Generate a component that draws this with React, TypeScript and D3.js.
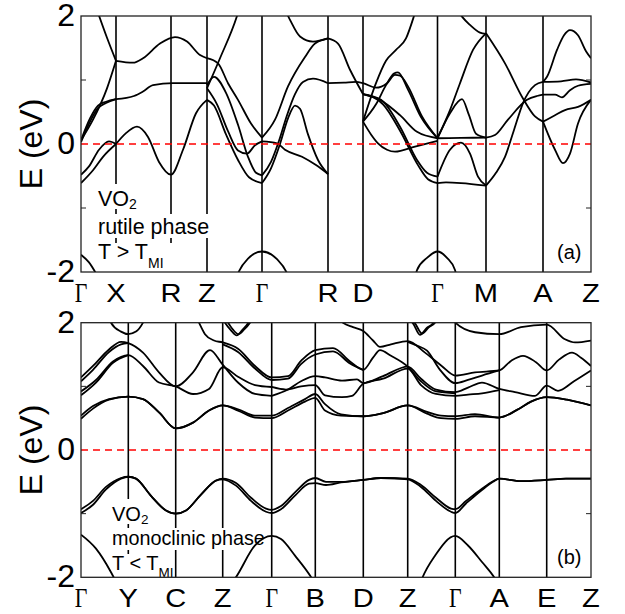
import React from 'react';
import * as d3 from 'd3';

type Pt = [number, number];

// ---- panel (a): rutile VO2, path positions and labels
const rutileK = [0, 0.35, 0.9, 1.26, 1.81, 2.47, 2.82, 3.565, 4.05, 4.62, 5.1];
const rutileLabels = ['Γ', 'X', 'R', 'Z', 'Γ', 'R', 'D', 'Γ', 'M', 'A', 'Z'];

// bands of panel (a), [k, E in eV]
const ruA1: Pt[] = [[0.17, 2.05], [0.26, 1.66], [0.35, 1.3]];
const ruA2: Pt[] = [[0, 0.06], [0.12, 0.38], [0.26, 0.87], [0.35, 1.3]];
const ruA3: Pt[] = [[0.35, 1.3], [0.52, 1.27], [0.62, 1.34], [0.79, 1.57], [0.94, 1.67], [1.06, 1.6], [1.19, 1.39], [1.26, 1.34]];
const ruA4: Pt[] = [[1.26, 1.34], [1.37, 1.26], [1.47, 0.95], [1.57, 0.69], [1.7, 0.32], [1.81, 0.1]];
const ruA5: Pt[] = [[1.81, 0.1], [1.94, 0.38], [2.07, 0.9], [2.24, 1.36], [2.34, 1.57], [2.47, 1.65]];
const ruA6: Pt[] = [[2.47, 1.65], [2.57, 1.57], [2.69, 1.16], [2.82, 0.78]];
const ruA7: Pt[] = [[2.82, 0.78], [2.99, 0.69], [3.19, 0.45], [3.36, 0.19], [3.565, 0.09]];
const ruA8: Pt[] = [[3.565, 0.09], [3.69, 0.53], [3.79, 0.95], [3.92, 1.47], [4.05, 1.73]];
const ruA9: Pt[] = [[4.05, 1.73], [4.24, 1.26], [4.42, 0.71], [4.54, 0.43], [4.62, 0.35]];
const ruB1: Pt[] = [[0, 0.06], [0.09, 0.4], [0.17, 0.6], [0.25, 0.66], [0.35, 0.7]];
const ruB2: Pt[] = [[0, 0.03], [0.09, 0.35], [0.17, 0.56], [0.25, 0.64], [0.35, 0.7]];
const ruB3: Pt[] = [[0.35, 0.7], [0.53, 0.75], [0.62, 0.82], [0.72, 0.92], [0.92, 0.95], [1.26, 0.95]];
const ruC1: Pt[] = [[0.35, 0], [0.45, 0.17], [0.56, 0.27], [0.67, 0.11], [0.78, -0.28], [0.9, -0.48], [1.02, -0.09], [1.15, 0.48], [1.26, 0.69]];
const ruC2: Pt[] = [[1.26, 0.92], [1.33, 1.05], [1.45, 0.8], [1.57, 0.3], [1.67, -0.2], [1.75, -0.45], [1.81, -0.49]];
const ruC3: Pt[] = [[1.26, 0.69], [1.33, 0.6], [1.45, 0.15], [1.57, -0.25], [1.68, -0.52], [1.81, -0.61]];
const ruC4: Pt[] = [[1.26, 0.87], [1.36, 0.62], [1.47, 0.2], [1.57, -0.1], [1.66, -0.15], [1.74, -0.02], [1.81, 0.04]];
const ruC5: Pt[] = [[1.26, 0.87], [1.39, 1.34], [1.56, 2.0], [1.58, 2.1]];
const ruC6: Pt[] = [[2.04, 2.1], [2.09, 1.94], [2.19, 1.68], [2.32, 1.6], [2.47, 1.65]];
const ruD1: Pt[] = [[1.81, -0.49], [1.9, -0.28], [1.98, 0.05], [2.06, 0.45], [2.14, 0.78], [2.22, 0.97], [2.32, 1.02], [2.47, 0.95]];
const ruD2: Pt[] = [[1.81, -0.61], [1.9, -0.38], [1.99, 0], [2.07, 0.4], [2.14, 0.6], [2.19, 0.55], [2.27, 0.15], [2.37, -0.25], [2.47, -0.47]];
const ruD3: Pt[] = [[1.81, 0.04], [1.96, 0.01], [2.04, -0.09], [2.21, -0.2], [2.35, -0.33], [2.47, -0.47]];
const ruE1: Pt[] = [[0, -0.48], [0.08, -0.35], [0.18, -0.09], [0.28, 0.04], [0.35, 0]];
const ruE2: Pt[] = [[0, -0.61], [0.12, -0.41], [0.22, -0.2], [0.35, 0]];
const ruF1: Pt[] = [[0, -1.73], [0.08, -1.85], [0.16, -2.05]];
const ruF2: Pt[] = [[1.55, -2.1], [1.57, -2.02], [1.67, -1.79], [1.81, -1.68], [1.96, -1.8], [2.06, -2.02], [2.08, -2.1]];
const ruF3: Pt[] = [[3.34, -2.1], [3.36, -1.97], [3.46, -1.78], [3.565, -1.68], [3.66, -1.78], [3.74, -1.97], [3.76, -2.1]];
const ruG1: Pt[] = [[2.47, 0.95], [2.63, 0.96], [2.75, 0.97], [2.82, 0.95], [2.95, 0.88], [3.06, 0.95], [3.14, 1.08], [3.19, 1.07], [3.27, 0.9], [3.41, 0.43], [3.565, 0.09]];
const ruG2: Pt[] = [[2.82, 0.35], [2.95, 0.62], [3.05, 0.92], [3.13, 1.1], [3.17, 1.12], [3.27, 0.85], [3.4, 0.42], [3.565, 0.09]];
const ruG3: Pt[] = [[2.82, 0.35], [2.95, 0.95], [3.05, 1.3], [3.15, 1.47], [3.25, 1.65], [3.33, 2.0], [3.35, 2.1]];
const ruG4: Pt[] = [[2.82, 0.35], [2.9, 0.15], [2.97, 0.01], [3.06, -0.09], [3.14, -0.12], [3.34, -0.04], [3.565, 0.05]];
const ruG5: Pt[] = [[2.82, 0.78], [3.0, 0.69], [3.19, 0.27], [3.36, -0.25], [3.46, -0.45], [3.565, -0.51]];
const ruG6: Pt[] = [[2.82, 0.78], [3.02, 0.62], [3.2, 0.18], [3.37, -0.33], [3.47, -0.55], [3.565, -0.61]];
const ruH1: Pt[] = [[3.565, 0.09], [3.8, 0.095], [4.05, 0.1]];
const ruH2: Pt[] = [[3.565, 0.09], [3.69, 0.48], [3.81, 0.7], [3.88, 0.45], [3.95, 0.16], [4.05, 0.1]];
const ruH3: Pt[] = [[3.565, -0.51], [3.69, -0.09], [3.8, 0.02], [3.89, -0.15], [3.97, -0.51], [4.05, -0.65]];
const ruH4: Pt[] = [[3.565, -0.61], [3.65, -0.6], [3.8, -0.61], [4.05, -0.65]];
const ruH5: Pt[] = [[3.77, 2.08], [3.81, 1.99], [3.89, 1.86], [3.99, 1.74], [4.05, 1.72]];
const ruJ1: Pt[] = [[4.05, 0.1], [4.14, 0.14], [4.27, 0.38], [4.46, 0.69], [4.56, 0.75], [4.62, 0.77]];
const ruJ2: Pt[] = [[4.05, -0.65], [4.15, -0.45], [4.24, -0.2], [4.33, 0.22], [4.42, 0.64], [4.54, 0.92], [4.62, 0.97]];
const ruK1: Pt[] = [[4.62, 0.97], [4.8, 0.98], [4.95, 1.01], [5.1, 0.96]];
const ruK2: Pt[] = [[4.62, 0.77], [4.74, 0.77], [4.81, 0.73], [4.89, 0.84], [4.97, 0.91], [5.1, 0.94]];
const ruK3: Pt[] = [[4.62, 0.97], [4.66, 1.05], [4.76, 1.47], [4.83, 1.7], [4.89, 1.78], [4.97, 1.7], [5.05, 1.45], [5.1, 1.34]];
const ruK4: Pt[] = [[4.62, 0.35], [4.74, -0.09], [4.82, -0.3], [4.89, -0.15], [4.97, 0.32], [5.1, 0.69]];
const ruK5: Pt[] = [[4.62, 0.35], [4.74, 0.45], [4.84, 0.53], [4.97, 0.58], [5.1, 0.69]];

const rutileBands = [
  ruA1, ruA2, ruA3, ruA4, ruA5, ruA6, ruA7, ruA8, ruA9, ruB1, ruB2, ruB3,
  ruC1, ruC2, ruC3, ruC4, ruC5, ruC6, ruD1, ruD2, ruD3, ruE1, ruE2, ruF1, ruF2, ruF3,
  ruG1, ruG2, ruG3, ruG4, ruG5, ruG6, ruH1, ruH2, ruH3, ruH4, ruH5,
  ruJ1, ruJ2, ruK1, ruK2, ruK3, ruK4, ruK5,
];

// ---- panel (b): monoclinic VO2
const monoK = [0, 0.473, 0.947, 1.417, 1.907, 2.343, 2.823, 3.267, 3.743, 4.183, 4.657, 5.1];
const monoLabels = ['Γ', 'Y', 'C', 'Z', 'Γ', 'B', 'D', 'Z', 'Γ', 'A', 'E', 'Z'];

const moV1: Pt[] = [[0, -0.93], [0.12, -0.8], [0.25, -0.58], [0.4, -0.44], [0.473, -0.42], [0.55, -0.45], [0.7, -0.72], [0.85, -0.95], [0.947, -1.0], [1.05, -0.95], [1.2, -0.7], [1.35, -0.48], [1.417, -0.45], [1.55, -0.52], [1.7, -0.75], [1.85, -0.92], [1.907, -0.94], [2.0, -0.88], [2.15, -0.65], [2.28, -0.47], [2.343, -0.44], [2.45, -0.5], [2.6, -0.5], [2.823, -0.47], [3.0, -0.44], [3.267, -0.45], [3.4, -0.55], [3.55, -0.75], [3.7, -0.92], [3.743, -0.93], [3.85, -0.8], [4.0, -0.62], [4.12, -0.49], [4.183, -0.45], [4.4, -0.49], [4.657, -0.47], [4.85, -0.45], [5.1, -0.45]];
const moV2: Pt[] = [[0, -0.99], [0.12, -0.86], [0.25, -0.62], [0.4, -0.45], [0.473, -0.42], [0.55, -0.45], [0.7, -0.72], [0.85, -0.95], [0.947, -1.0], [1.05, -0.95], [1.2, -0.7], [1.35, -0.48], [1.417, -0.46], [1.55, -0.56], [1.7, -0.8], [1.85, -0.97], [1.907, -0.99], [2.0, -0.93], [2.15, -0.7], [2.28, -0.53], [2.343, -0.52], [2.45, -0.55], [2.6, -0.51], [2.823, -0.47], [3.0, -0.44], [3.267, -0.46], [3.4, -0.58], [3.55, -0.8], [3.7, -0.97], [3.743, -0.99], [3.85, -0.84], [4.0, -0.64], [4.12, -0.5], [4.183, -0.45], [4.4, -0.49], [4.657, -0.47], [4.85, -0.45], [5.1, -0.45]];
const moL1: Pt[] = [[0, -1.33], [0.15, -1.55], [0.3, -1.92], [0.36, -2.1]];
const moL2: Pt[] = [[1.5, -2.1], [1.54, -2.02], [1.74, -1.5], [1.907, -1.35], [2.0, -1.4], [2.14, -1.66], [2.31, -2.02], [2.34, -2.1]];
const moL3: Pt[] = [[3.39, -2.1], [3.41, -2.02], [3.54, -1.66], [3.743, -1.35], [3.87, -1.5], [4.01, -1.76], [4.14, -2.02], [4.17, -2.1]];
const moC1: Pt[] = [[0, 0.54], [0.12, 0.69], [0.28, 0.8], [0.473, 0.84], [0.62, 0.8], [0.78, 0.59], [0.947, 0.34], [1.12, 0.43], [1.28, 0.62], [1.417, 0.7], [1.57, 0.64], [1.74, 0.54], [1.907, 0.54], [2.07, 0.66], [2.24, 0.8], [2.343, 0.88], [2.44, 0.72], [2.6, 0.56], [2.823, 0.53], [3.02, 0.58], [3.267, 0.7], [3.46, 0.6], [3.6, 0.54], [3.743, 0.53], [3.94, 0.565], [4.183, 0.51], [4.36, 0.63], [4.5, 0.76], [4.657, 0.83], [4.86, 0.79], [5.1, 0.7]];
const moC2: Pt[] = [[0, 0.49], [0.12, 0.65], [0.28, 0.79], [0.473, 0.84], [0.62, 0.8], [0.78, 0.59], [0.947, 0.34], [1.12, 0.43], [1.28, 0.62], [1.417, 0.7], [1.57, 0.62], [1.74, 0.51], [1.907, 0.5], [2.07, 0.62], [2.24, 0.76], [2.343, 0.82], [2.44, 0.62], [2.6, 0.54], [2.823, 0.53], [3.02, 0.58], [3.267, 0.7], [3.46, 0.57], [3.6, 0.5], [3.743, 0.49], [3.94, 0.53], [4.183, 0.51], [4.36, 0.63], [4.5, 0.76], [4.657, 0.83], [4.86, 0.79], [5.1, 0.7]];
const moB1: Pt[] = [[0, 1.14], [0.12, 1.32], [0.28, 1.58], [0.4, 1.7], [0.473, 1.68], [0.62, 1.53], [0.78, 1.22], [0.947, 1.0], [1.12, 1.22], [1.29, 1.57], [1.417, 1.34], [1.57, 1.06], [1.74, 0.88], [1.907, 0.85]];
const moB2: Pt[] = [[0, 1.08], [0.12, 1.26], [0.28, 1.54], [0.4, 1.66], [0.473, 1.68]];
const moB3: Pt[] = [[0, 0.92], [0.15, 1.1], [0.32, 1.39], [0.473, 1.49], [0.62, 1.32], [0.78, 1.06], [0.947, 1.0], [1.12, 0.88], [1.28, 0.96], [1.417, 1.3], [1.57, 1.15], [1.74, 1.02], [1.907, 0.99]];
const moB4: Pt[] = [[0, 0.86], [0.15, 1.06], [0.32, 1.37], [0.473, 1.49]];
const moB5: Pt[] = [[0.27, 2.1], [0.3, 2.0], [0.4, 1.86], [0.473, 1.82], [0.55, 1.86], [0.62, 2.0], [0.65, 2.1]];
const moB6: Pt[] = [[1.15, 2.1], [1.18, 2.0], [1.24, 1.82], [1.33, 1.72], [1.417, 1.69], [1.57, 1.59], [1.74, 1.32], [1.907, 1.14], [2.07, 1.16], [2.2, 1.4], [2.343, 1.57], [2.52, 1.6], [2.69, 1.39], [2.823, 1.26], [2.92, 1.45], [2.99, 1.57], [3.1, 1.48], [3.267, 1.31], [3.4, 1.08], [3.55, 0.92], [3.743, 0.89]];
const moB7: Pt[] = [[1.417, 1.66], [1.57, 1.54], [1.74, 1.28], [1.907, 1.1], [2.07, 1.12], [2.2, 1.35], [2.343, 1.5], [2.52, 1.55], [2.69, 1.36], [2.823, 1.26]];
const moG1: Pt[] = [[2.55, 2.1], [2.62, 2.0], [2.72, 1.93], [2.823, 1.87], [2.92, 1.72], [2.99, 1.62], [3.1, 1.66], [3.267, 1.71], [3.44, 1.53], [3.607, 1.32], [3.743, 1.17], [3.94, 1.22], [4.183, 1.25], [4.3, 1.4], [4.42, 1.48], [4.55, 1.38], [4.657, 1.25], [4.78, 1.42], [4.91, 1.53], [5.0, 1.45], [5.1, 1.32]];
const moG2: Pt[] = [[1.907, 0.85], [2.07, 0.95], [2.2, 1.08], [2.343, 1.16], [2.44, 1.14], [2.61, 1.09], [2.76, 1.11], [2.823, 1.05], [3.02, 1.16], [3.267, 1.31], [3.4, 1.12], [3.55, 0.95], [3.743, 0.91], [3.87, 0.98], [4.01, 1.06], [4.183, 0.96], [4.34, 0.91], [4.54, 0.85], [4.657, 1.01], [4.77, 0.93], [4.93, 1.08], [5.1, 1.25]];
const moG3: Pt[] = [[1.907, 0.99], [2.05, 0.95], [2.2, 1.0], [2.343, 1.02], [2.44, 0.86], [2.61, 0.83], [2.71, 0.85], [2.823, 1.04], [3.02, 1.12], [3.267, 1.28], [3.4, 1.02], [3.55, 0.88], [3.743, 0.85], [3.87, 0.87], [4.01, 0.89], [4.183, 0.94]];
const moG4: Pt[] = [[3.267, 1.7], [3.36, 1.64], [3.46, 1.56], [3.59, 1.26], [3.743, 1.05], [3.87, 1.1], [4.01, 1.17], [4.183, 1.25]];
const moG5: Pt[] = [[3.7, 2.1], [3.743, 2.0], [3.94, 1.85], [4.183, 1.82], [4.4, 1.93], [4.657, 1.97], [4.84, 1.74], [4.94, 1.69], [5.1, 1.72]];
const moW1: Pt[] = [[1.42, 2.05], [1.44, 2.0], [1.5, 1.88], [1.557, 1.8], [1.61, 1.88], [1.673, 2.0], [1.69, 2.05]];
const moW2: Pt[] = [[1.45, 2.05], [1.47, 2.0], [1.52, 1.89], [1.575, 1.82], [1.63, 1.89], [1.69, 2.0], [1.71, 2.05]];
const moW3: Pt[] = [[3.28, 2.05], [3.32, 1.99], [3.39, 1.81], [3.46, 1.92], [3.52, 1.99], [3.54, 2.05]];
const moW4: Pt[] = [[3.3, 2.05], [3.34, 1.99], [3.41, 1.83], [3.48, 1.93], [3.54, 2.0], [3.56, 2.05]];

const monoBands = [
  moV1, moV2, moL1, moL2, moL3, moC1, moC2, moB1, moB2, moB3, moB4, moB5, moB6, moB7,
  moG1, moG2, moG3, moG4, moG5, moW1, moW2, moW3, moW4,
];

const yTicks = [2, 0, -2];
const yMinor = [1, -1];

const SANS = '"Liberation Sans", Arial, Helvetica, sans-serif';
const SERIF = '"Liberation Serif", "Times New Roman", serif';

const X0 = 81;
const X1 = 591;

type PanelProps = {
  id: string;
  top: number;
  bottom: number;
  kPts: number[];
  labels: string[];
  bands: Pt[][];
  tag: string;
  children?: React.ReactNode;
};

const Panel = ({ id, top, bottom, kPts, labels, bands, tag, children }: PanelProps) => {
  const x = d3.scaleLinear().domain([0, kPts[kPts.length - 1]]).range([X0, X1]);
  const y = d3.scaleLinear().domain([-2, 2]).range([bottom, top]);
  const line = d3.line<Pt>().x(d => x(d[0])).y(d => y(d[1])).curve(d3.curveMonotoneX);
  const mid = (top + bottom) / 2;

  return (
    <g>
      <defs>
        <clipPath id={id}>
          <rect x={X0} y={top} width={X1 - X0} height={bottom - top} />
        </clipPath>
      </defs>

      {/* high-symmetry lines */}
      {kPts.slice(1, -1).map((k, i) => (
        <line key={i} x1={x(k)} x2={x(k)} y1={top} y2={bottom} stroke="#000" strokeWidth={1.6} />
      ))}

      {/* white boxes of the caption hide the lines behind it */}
      {children}

      <g clipPath={`url(#${id})`}>
        {bands.map((b, i) => (
          <path key={i} d={line(b) || ''} fill="none" stroke="#000" strokeWidth={1.8} strokeLinejoin="round" />
        ))}
      </g>

      <line x1={X0} x2={X1} y1={y(0)} y2={y(0)} stroke="#ff0000" strokeWidth={1.7} strokeDasharray="7 5" />

      <rect x={X0} y={top} width={X1 - X0} height={bottom - top} fill="none" stroke="#222" strokeWidth={1.3} />
      {yMinor.map(v => (
        <g key={v}>
          <line x1={X0} x2={X0 + 5} y1={y(v)} y2={y(v)} stroke="#222" strokeWidth={1} />
          <line x1={X1} x2={X1 - 5} y1={y(v)} y2={y(v)} stroke="#222" strokeWidth={1} />
        </g>
      ))}

      {yTicks.map(v => (
        <text key={v} x={75} y={y(v) + 10} textAnchor="end" fontSize={32} fontFamily={SANS}>
          {v === -2 ? '-2' : String(v)}
        </text>
      ))}

      <text transform={`translate(42,${mid}) rotate(-90)`} textAnchor="middle" fontSize={32} fontFamily={SANS}>
        E (eV)
      </text>

      {labels.map((l, i) => (
        <text
          key={i}
          transform={`translate(${x(kPts[i])},${bottom + 29.5}) scale(${l === 'Γ' ? 0.78 : 1.12},1)`}
          textAnchor="middle"
          fontSize={l === 'Γ' ? 28 : 26}
          fontFamily={l === 'Γ' ? SERIF : SANS}
        >
          {l}
        </text>
      ))}

      <text x={557} y={bottom - 13} fontSize={20} fontFamily={SANS}>{tag}</text>
    </g>
  );
};

export default function App() {
  return (
    <svg width={625} height={614} style={{ position: 'absolute', left: 0, top: 0, background: '#fff' }}>
      <rect width={625} height={614} fill="#fff" />
      <Panel id="clipA" top={16} bottom={272} kPts={rutileK} labels={rutileLabels} bands={rutileBands} tag="(a)">
        <rect x={96} y={184} width={44} height={25} fill="#fff" />
        <rect x={96} y={214} width={116} height={24} fill="#fff" />
        <rect x={96} y={243} width={78} height={29} fill="#fff" />
        <text x={98} y={206} fontSize={21.5} fontFamily={SANS}>VO<tspan fontSize={14} dy={2.5}>2</tspan></text>
        <text x={98} y={233.5} fontSize={21.5} fontFamily={SANS}>rutile phase</text>
        <text x={98} y={258.5} fontSize={21.5} fontFamily={SANS}>T &gt; T<tspan fontSize={14} dy={9}>MI</tspan></text>
      </Panel>
      <Panel id="clipB" top={322.7} bottom={577.3} kPts={monoK} labels={monoLabels} bands={monoBands} tag="(b)">
        <rect x={110} y={499} width={40} height={25} fill="#fff" />
        <rect x={110} y={528} width={157} height={22} fill="#fff" />
        <rect x={110} y={554} width={64} height={23} fill="#fff" />
        <text x={112} y={521} fontSize={20} fontFamily={SANS}>VO<tspan fontSize={13.5} dy={2.5}>2</tspan></text>
        <text x={112} y={545} fontSize={19.8} fontFamily={SANS}>monoclinic phase</text>
        <text x={112} y={570} fontSize={20} fontFamily={SANS}>T &lt; T<tspan fontSize={13.5} dy={7}>MI</tspan></text>
      </Panel>
    </svg>
  );
}
